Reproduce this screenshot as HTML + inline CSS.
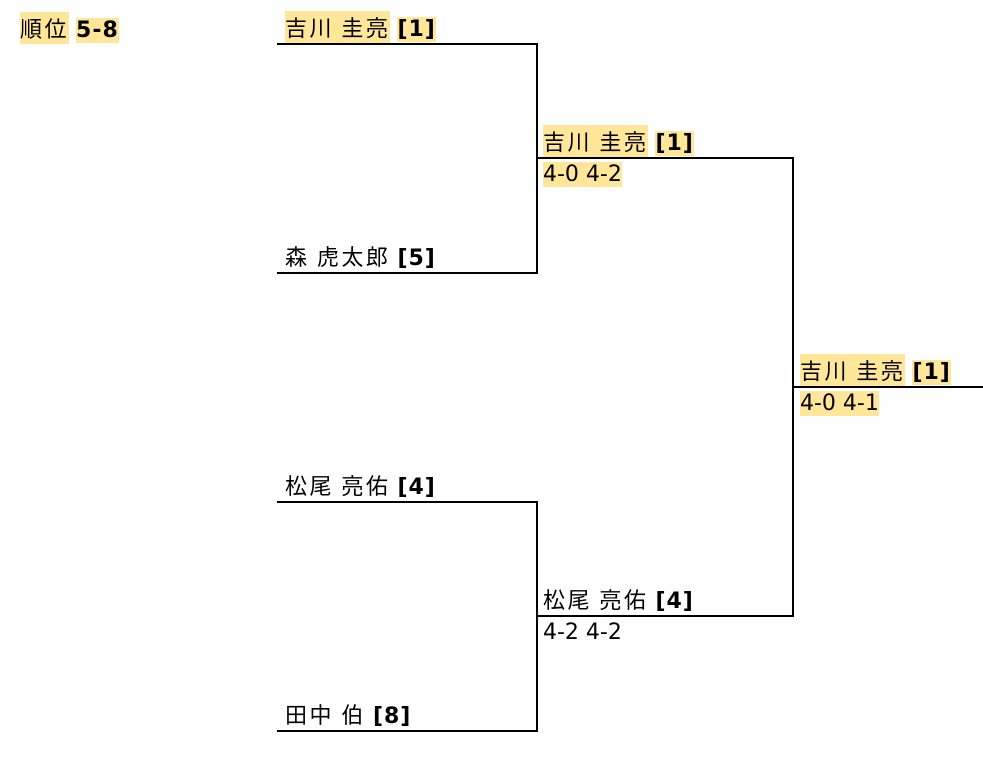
<!DOCTYPE html>
<html><head><meta charset="utf-8"><style>
body{margin:0;width:983px;height:762px;background:#fff;position:relative;overflow:hidden;font-family:"DejaVu Sans","Noto Sans CJK JP",sans-serif;font-size:22px;color:#000}
.l{position:absolute;background:#000}
.t{position:absolute;line-height:27px;white-space:nowrap}
.h{background:#ffe699}
.j{font-family:"Noto Sans CJK JP",sans-serif;font-size:22px;letter-spacing:2.5px}
b{font-weight:bold;letter-spacing:1px}
</style></head><body>
<div class="t" style="left:20px;top:15px"><span class="h j">順位</span> <span class="h"><b>5-8</b></span></div>

<div class="l" style="left:277px;top:43px;width:261px;height:2px"></div>
<div class="l" style="left:277px;top:272px;width:261px;height:2px"></div>
<div class="l" style="left:536px;top:43px;width:2px;height:231px"></div>
<div class="l" style="left:277px;top:501px;width:261px;height:2px"></div>
<div class="l" style="left:277px;top:730px;width:261px;height:2px"></div>
<div class="l" style="left:536px;top:501px;width:2px;height:231px"></div>
<div class="l" style="left:537px;top:157px;width:257px;height:2px"></div>
<div class="l" style="left:537px;top:615px;width:257px;height:2px"></div>
<div class="l" style="left:792px;top:157px;width:2px;height:460px"></div>
<div class="l" style="left:793px;top:386px;width:190px;height:2px"></div>

<div class="t" style="left:285px;top:14px"><span class="h j">吉川 圭亮</span> <span class="h"><b>[1]</b></span></div>
<div class="t" style="left:285px;top:243px"><span class="j">森 虎太郎</span> <b>[5]</b></div>
<div class="t" style="left:285px;top:472px"><span class="j">松尾 亮佑</span> <b>[4]</b></div>
<div class="t" style="left:285px;top:701px"><span class="j">田中 伯</span> <b>[8]</b></div>

<div class="t" style="left:543px;top:128px"><span class="h j">吉川 圭亮</span> <span class="h"><b>[1]</b></span></div>
<div class="t" style="left:543px;top:161px"><span class="h">4-0 4-2</span></div>
<div class="t" style="left:543px;top:586px"><span class="j">松尾 亮佑</span> <b>[4]</b></div>
<div class="t" style="left:543px;top:619px">4-2 4-2</div>

<div class="t" style="left:800px;top:357px"><span class="h j">吉川 圭亮</span> <span class="h"><b>[1]</b></span></div>
<div class="t" style="left:800px;top:390px"><span class="h">4-0 4-1</span></div>
</body></html>
